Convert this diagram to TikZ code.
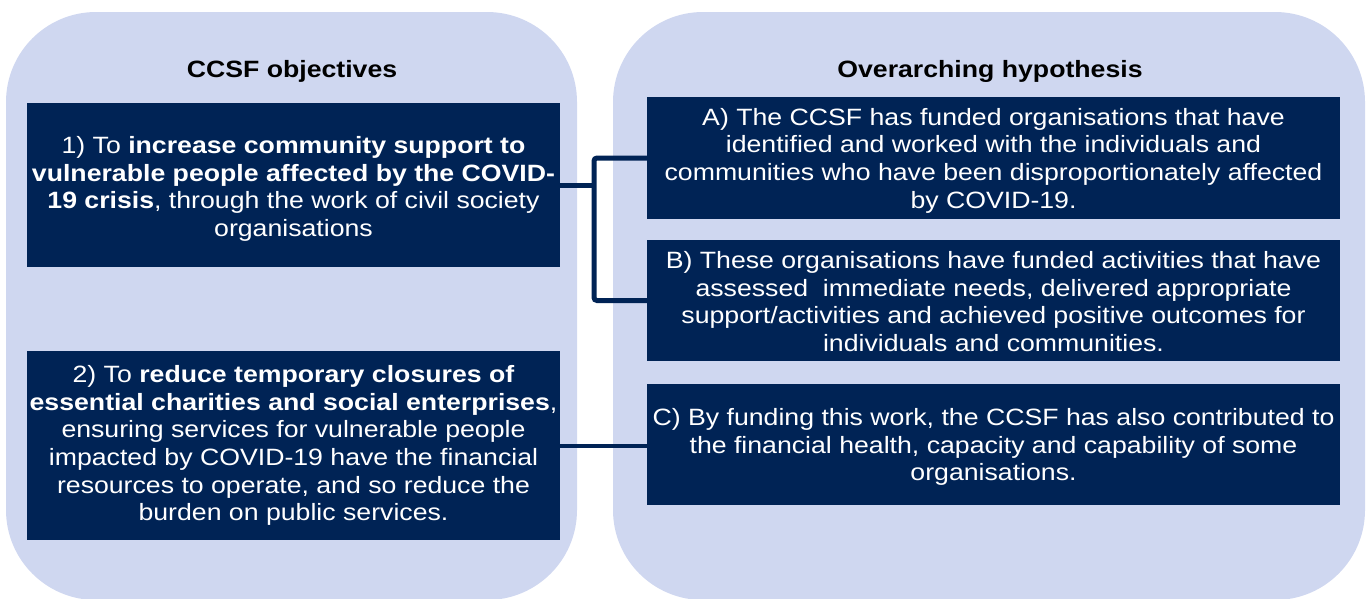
\documentclass[tikz,border=0pt]{standalone}
\usepackage{fontspec}
\setmainfont[FakeStretch=1.13]{Liberation Sans}
\definecolor{panel}{RGB}{207,215,240}
\definecolor{navy}{RGB}{0,35,85}
\newcommand{\lift}[1]{\rule{0pt}{#1pt}}
\begin{document}
\begin{tikzpicture}[x=1pt,y=-1pt,
  panelbox/.style={fill=panel,rounded corners=90pt},
  navybox/.style={fill=navy,text=white,inner sep=0pt,align=center,font=\fontsize{23.6}{27.6}\selectfont},
  title/.style={font=\fontsize{23.6}{26}\selectfont\bfseries,text=black},
  conn/.style={draw=navy,line width=5pt,rounded corners=3pt},
  conntwo/.style={draw=navy,line width=4pt}]
\useasboundingbox (0,0) rectangle (1370,598);
\begin{scope}
\clip (0,0) rectangle (1370,598);
\fill[panelbox] (6,12) rectangle (577,600);
\fill[panelbox] (613,12) rectangle (1365,600);
\end{scope}
\node[title] (t1) at (292,71) {CCSF objectives};
\node[title] (t2) at (990,71) {Overarching hypothesis};
\node[navybox,minimum width=533pt,minimum height=164pt] (box1) at (293.5,185) {\lift{25}1) To \textbf{increase community support to}\\\textbf{vulnerable people affected by the COVID-}\\\textbf{19 crisis}, through the work of civil society\\organisations};
\node[navybox,minimum width=533pt,minimum height=189pt] (box2) at (293.5,445.5) {2) To \textbf{reduce temporary closures of}\\\textbf{essential charities and social enterprises},\\ensuring services for vulnerable people\\impacted by COVID-19 have the financial\\resources to operate, and so reduce the\\burden on public services.};
\node[navybox,minimum width=693pt,minimum height=122pt] (boxA) at (993.5,158) {\lift{22.4}A) The CCSF has funded organisations that have\\identified and worked with the individuals and\\communities who have been disproportionately affected\\by COVID-19.};
\node[navybox,minimum width=693pt,minimum height=121pt] (boxB) at (993.5,300.5) {\lift{19}B) These organisations have funded activities that have\\assessed\ \ immediate needs, delivered appropriate\\support/activities and achieved positive outcomes for\\individuals and communities.};
\node[navybox,minimum width=693pt,minimum height=121pt] (boxC) at (993.5,444.5) {\lift{22.6}C) By funding this work, the CCSF has also contributed to\\the financial health, capacity and capability of some\\organisations.};
\coordinate (fork) at (594,185);
\draw[conn] (box1.east) -- (fork);
\draw[conn] (boxA.west) -| (fork) |- (boxB.west);
\draw[conntwo] (box2.east) -- (box2.east -| boxC.west);
\end{tikzpicture}
\end{document}
